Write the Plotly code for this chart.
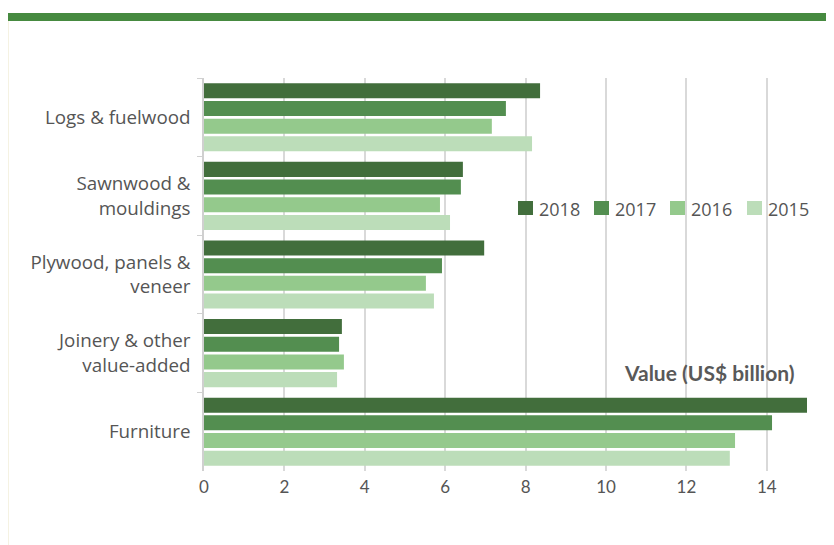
import plotly.graph_objects as go

categories = ["Logs & fuelwood", "Sawnwood &<br>mouldings", "Plywood, panels &<br>veneer",
              "Joinery & other<br>value-added", "Furniture"]
years = ["2018", "2017", "2016", "2015"]
v2018 = [8.36, 6.44, 6.97, 3.43, 15.0]
v2017 = [7.51, 6.39, 5.92, 3.36, 14.13]
v2016 = [7.16, 5.87, 5.52, 3.48, 13.21]
v2015 = [8.16, 6.12, 5.72, 3.31, 13.08]
colors = ["#426E3C", "#538E50", "#94C98C", "#BCDDB9"]

OFF = 8  # page body margin
W, H = 834 - OFF, 545 - OFF
L, T = 204 - OFF, 78 - OFF
PR, PB = 807 - OFF, 471 - OFF
R, B = W - PR, H - PB
pw, ph = PR - L, PB - T

def px_x(p):
    return (p - OFF - L) / pw

def px_y(p):
    return 1 - (p - OFF - T) / ph

fig = go.Figure()
for name, vals, c in zip(years, [v2018, v2017, v2016, v2015], colors):
    fig.add_trace(go.Bar(y=categories, x=vals, name=name, orientation="h",
                         marker=dict(color=c, line=dict(width=0)), showlegend=False))

# manual legend (squares + labels), positioned like the reference
leg_sq_left = [518, 594, 670, 747]
leg_y_top, leg_y_bot = 201, 215
shapes = [
    dict(type="rect", xref="paper", yref="paper", x0=px_x(7), x1=px_x(840),
         y0=px_y(21), y1=px_y(13), fillcolor="#468A40", line=dict(width=0), layer="above"),
    dict(type="line", xref="paper", yref="paper", x0=px_x(7.5), x1=px_x(7.5),
         y0=px_y(21), y1=px_y(550), line=dict(color="#D6CC8C", width=1.5)),
]
annotations = [dict(text="<b>Value (US$ billion)</b>", xref="paper", yref="paper",
                    x=px_x(709), y=px_y(372), xanchor="center", yanchor="middle",
                    showarrow=False, font=dict(family="Lato, sans-serif", size=21, color="#595959"))]
for name, c, x0 in zip(years, colors, leg_sq_left):
    shapes.append(dict(type="rect", xref="paper", yref="paper", x0=px_x(x0), x1=px_x(x0 + 15),
                       y0=px_y(leg_y_bot), y1=px_y(leg_y_top), fillcolor=c, line=dict(width=0)))
    annotations.append(dict(text=name, xref="paper", yref="paper", x=px_x(x0 + 19), y=px_y(209),
                            xanchor="left", yanchor="middle", showarrow=False,
                            font=dict(family="Open Sans, sans-serif", size=18, color="#555555")))

fig.update_layout(
    width=W, height=H,
    margin=dict(l=L, r=R, t=T, b=B, autoexpand=False),
    paper_bgcolor="white", plot_bgcolor="white",
    barmode="group", bargap=0.1, bargroupgap=0.15,
    font=dict(family="Open Sans, sans-serif", size=18.8, color="#555555"),
    showlegend=False,
    xaxis=dict(range=[0, 15], dtick=2, tick0=0, showgrid=True, gridcolor="#D9D9D9", gridwidth=1.5,
               zeroline=False, showline=False, ticks="", ticklabelstandoff=4,
               tickfont=dict(family="Lato, sans-serif", size=17, color="#555555"),
               fixedrange=True),
    yaxis=dict(autorange="reversed", showline=True, linecolor="#D0D0D0", linewidth=1.5,
               ticks="outside", tickson="boundaries", ticklen=5, tickcolor="#D0D0D0",
               ticklabelstandoff=8, tickfont=dict(size=18.8, color="#555555"), showgrid=False),
    annotations=annotations,
    shapes=shapes,
)

fig.write_html("out.html")
